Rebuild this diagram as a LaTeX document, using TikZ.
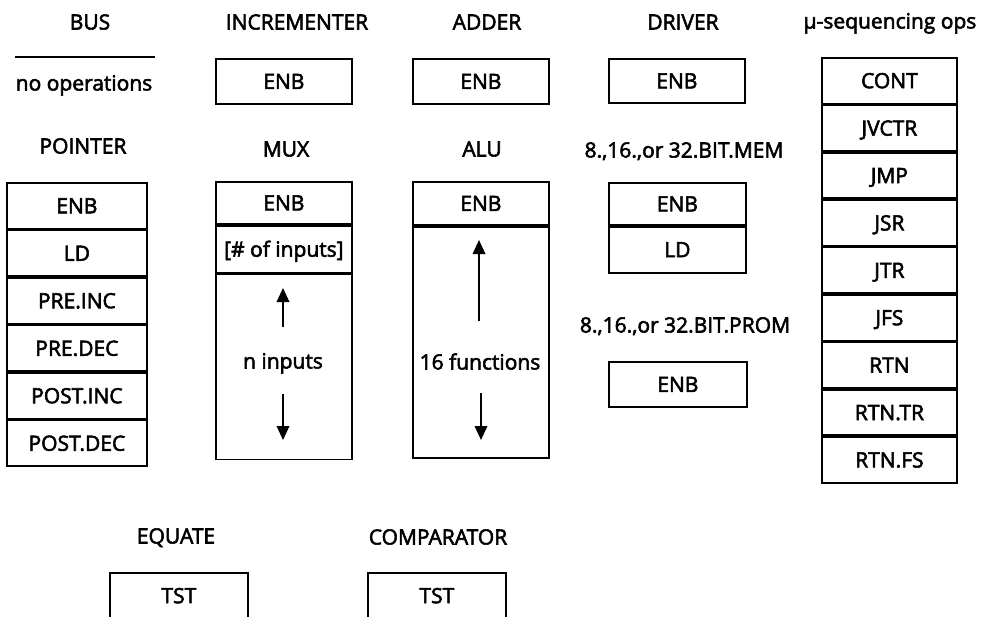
\documentclass[tikz,border=0pt]{standalone}
\usepackage{fontspec}
\setmainfont{Open Sans}
\usetikzlibrary{arrows.meta}
\newcommand\myfs{\fontsize{21}{25}\selectfont}
\begin{document}
\begin{tikzpicture}[x=1pt,y=-1pt,
  heavy/.style={execute at begin node={\special{pdf:literal direct 2 Tr 0.55 w}},
                execute at end node={\special{pdf:literal direct 0 Tr}}},
  lbl/.style={heavy, font=\myfs, inner sep=0pt, text height=15pt, text depth=0pt, anchor=center},
  cell/.style={heavy, draw, line width=1.8pt, inner sep=0pt, font=\myfs, text height=15pt, text depth=0pt,
               anchor=north west, minimum width=#1},
  cell/.default=136pt,
  arr/.style={-{Triangle[length=14pt,width=12.5pt]}, line width=1.8pt}]
\useasboundingbox (0,0) rectangle (992,616);

% ---- titles
\node[lbl] (tbus)  at (90,22)    {BUS};
\node[lbl] (tinc)  at (297,22)   {INCREMENTER};
\node[lbl] (tadd)  at (487,22)   {ADDER};
\node[lbl] (tdrv)  at (683,22)   {DRIVER};
\node[lbl] (tseq)  at (890,21)   {μ-sequencing ops};
\node[lbl] (tptr)  at (83,146)   {POINTER};
\node[lbl] (tmux)  at (286,149)  {MUX};
\node[lbl] (talu)  at (482,149)  {ALU};
\node[lbl] (tmem)  at (684,150)  {8.,16.,or 32.BIT.MEM};
\node[lbl] (tprom) at (685,325)  {8.,16.,or 32.BIT.PROM};
\node[lbl] (teq)   at (176,536)  {EQUATE};
\node[lbl] (tcmp)  at (438,537)  {COMPARATOR};

% ---- BUS
\coordinate (busL) at (15,57);
\coordinate (busR) at (155,57);
\draw[line width=1.8pt] (busL) -- (busR);
\node[lbl] (busno) at (84,83) {no operations};

% ---- single ENB boxes
\node[cell, minimum height=45pt] (inc) at (215,58) {ENB};
\node[cell, minimum height=45pt] (add) at (412,58) {ENB};
\node[cell, minimum height=44pt] (drv) at (608,58) {ENB};

% ---- micro-sequencing ops
\node[cell=135pt, minimum height=45.6pt] (s1) at (821,57) {CONT};
\node[cell=135pt, minimum height=45.6pt] (s2) at (s1.south west) {JVCTR};
\node[cell=135pt, minimum height=45.6pt] (s3) at (s2.south west) {JMP};
\node[cell=135pt, minimum height=45.6pt] (s4) at (s3.south west) {JSR};
\node[cell=135pt, minimum height=45.6pt] (s5) at (s4.south west) {JTR};
\node[cell=135pt, minimum height=45.6pt] (s6) at (s5.south west) {JFS};
\node[cell=135pt, minimum height=45.6pt] (s7) at (s6.south west) {RTN};
\node[cell=135pt, minimum height=45.6pt] (s8) at (s7.south west) {RTN.TR};
\node[cell=135pt, minimum height=45.6pt] (s9) at (s8.south west) {RTN.FS};

% ---- POINTER
\node[cell=140pt, minimum height=45.7pt] (p1) at (6,182) {ENB};
\node[cell=140pt, minimum height=45.7pt] (p2) at (p1.south west) {LD};
\node[cell=140pt, minimum height=45.7pt] (p3) at (p2.south west) {PRE.INC};
\node[cell=140pt, minimum height=45.7pt] (p4) at (p3.south west) {PRE.DEC};
\node[cell=140pt, minimum height=45.7pt] (p5) at (p4.south west) {POST.INC};
\node[cell=140pt, minimum height=45.7pt] (p6) at (p5.south west) {POST.DEC};

% ---- MUX
\node[cell, minimum height=42pt] (m1) at (215,181) {ENB};
\node[cell, minimum height=47pt] (m2) at (m1.south west) {[\# of inputs]};
\node[cell, minimum height=185pt] (m3) at (m2.south west) {};
\node[lbl] (mtxt) at (283,361) {n inputs};
\coordinate (muS) at (283,327);
\coordinate (muE) at (283,288);
\coordinate (mdS) at (283,394);
\coordinate (mdE) at (283,440);
\draw[arr] (muS) -- (muE);
\draw[arr] (mdS) -- (mdE);

% ---- ALU
\node[cell, minimum height=43pt] (a1) at (412,181) {ENB};
\node[cell, minimum height=231pt] (a2) at (a1.south west) {};
\node[lbl] (atxt) at (480,362) {16 functions};
\coordinate (auS) at (479,321);
\coordinate (auE) at (479,240);
\coordinate (adS) at (481,393);
\coordinate (adE) at (481,440);
\draw[arr] (auS) -- (auE);
\draw[arr] (adS) -- (adE);

% ---- MEM and PROM
\node[cell=137pt, minimum height=42pt] (mem1) at (608,182) {ENB};
\node[cell=137pt, minimum height=46pt] (mem2) at (mem1.south west) {LD};
\node[cell=138pt, minimum height=45pt] (prom) at (608,361) {ENB};

% ---- EQUATE and COMPARATOR
\node[cell=138pt, minimum height=45.5pt] (eq)  at (109,572) {TST};
\node[cell=138pt, minimum height=45.5pt] (cmp) at (367,572) {TST};
\end{tikzpicture}
\end{document}
